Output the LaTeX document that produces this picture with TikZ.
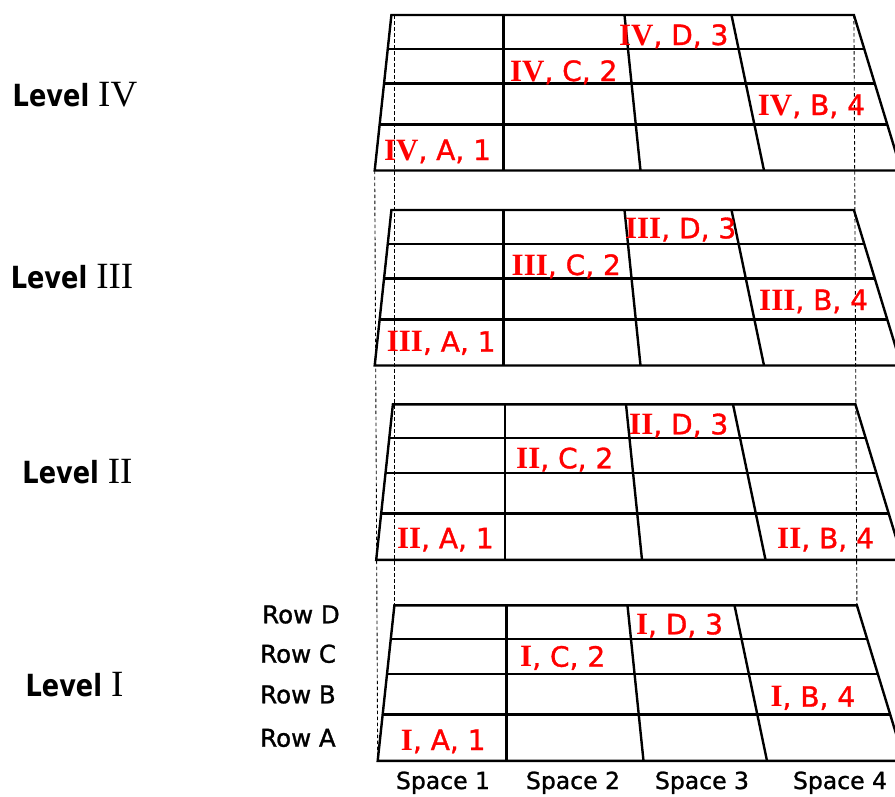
\documentclass[tikz,border=0pt]{standalone}
\usepackage{fontspec}
\setmainfont{DejaVu Sans}[FakeBold=1.2]
\newfontfamily\numfont{Liberation Serif}
\newfontfamily\levelfont{DejaVu Sans}[FakeStretch=0.84]
\usetikzlibrary{calc}

% one floor of the stack: #1 name, #2 x shift, #3 y of top edge
\newcommand{\floorgrid}[3]{%
  \begin{scope}[shift={(#2,#3)}]
    \coordinate (#1-tl) at (391.4,0);
    \coordinate (#1-tr) at (853.9,0);
    \coordinate (#1-bl) at (374.7,155.5);
    \coordinate (#1-br) at (901.3,155.5);
    \draw[gridline] (#1-tl) -- (#1-tr) -- (#1-br) -- (#1-bl) -- cycle;
    \foreach \f in {0.218,0.440,0.703}
      \draw[gridline] ($(#1-tl)!\f!(#1-bl)$) -- ($(#1-tr)!\f!(#1-br)$);
    \draw[gridline] (503.5,0) -- (503.5,155.5);
    \draw[gridline] (624.5,0) -- (640.5,155.5);
    \draw[gridline] (731.5,0) -- (764,155.5);
  \end{scope}}
\newcommand{\lvnum}[1]{{\numfont\mdseries\fontsize{37}{40}\selectfont #1}}
\newcommand{\cellnum}[1]{{\numfont\bfseries\fontsize{31}{33}\selectfont #1}}

\begin{document}
\begin{tikzpicture}[
    x=1pt, y=-1pt,
    gridline/.style={line width=2.4pt, line join=miter},
    guide/.style={line width=0.9pt, dash pattern=on 3.5pt off 2.5pt},
    levellabel/.style={anchor=base, inner sep=0pt, font=\levelfont\fontsize{30.5}{32}\selectfont\bfseries},
    rowlabel/.style={anchor=base west, inner sep=0pt, font=\fontsize{24.5}{26}\selectfont},
    spacelabel/.style={anchor=base, inner sep=0pt, font=\fontsize{23.5}{25}\selectfont},
    cell/.style={anchor=base west, inner sep=0pt, text=red, font=\fontsize{28}{30}\selectfont}
]
\useasboundingbox (0,0) rectangle (895,796);
\clip (0,0) rectangle (895,796);

\floorgrid{IV}{0}{15}
\floorgrid{III}{0}{210}
\floorgrid{II}{1.5}{404.3}
\floorgrid{I}{3}{605.3}

\coordinate (guidetop) at (I-tl |- IV-tl);
\draw[guide] (IV-bl) -- (I-bl);
\draw[guide] (guidetop) -- (I-tl);
\draw[guide] (IV-tr) -- (I-tr);

\node[levellabel] (lvIV) at (75,106.7) {Level \lvnum{IV}};
\node[levellabel] (lvIII) at (72,288.3) {Level \lvnum{III}};
\node[levellabel] (lvII) at (77.5,483.3) {Level \lvnum{II}};
\node[levellabel] (lvI) at (74.5,696) {Level \lvnum{I}};

\node[rowlabel] (rowD) at (262,623.3) {Row D};
\node[rowlabel] (rowC) at (260,662.7) {Row C};
\node[rowlabel] (rowB) at (260,703.3) {Row B};
\node[rowlabel] (rowA) at (260,746.7) {Row A};

\node[spacelabel] (sp1) at (443,789) {Space 1};
\node[spacelabel] (sp2) at (573,789) {Space 2};
\node[spacelabel] (sp3) at (702,789) {Space 3};
\node[spacelabel] (sp4) at (840,789) {Space 4};

\node[cell] (cIVD) at (618.8,45) {\cellnum{IV}, D, 3};
\node[cell] (cIVC) at (509.8,81) {\cellnum{IV}, C, 2};
\node[cell] (cIVB) at (757.7,115) {\cellnum{IV}, B, 4};
\node[cell] (cIVA) at (383.8,160) {\cellnum{IV}, A, 1};

\node[cell] (cIIID) at (624.9,238.3) {\cellnum{III}, D, 3};
\node[cell] (cIIIC) at (511.5,275) {\cellnum{III}, C, 2};
\node[cell] (cIIIB) at (759,310) {\cellnum{III}, B, 4};
\node[cell] (cIIIA) at (386.6,351.7) {\cellnum{III}, A, 1};

\node[cell] (cIID) at (629,434.3) {\cellnum{II}, D, 3};
\node[cell] (cIIC) at (516,468.3) {\cellnum{II}, C, 2};
\node[cell] (cIIA) at (396.8,548.3) {\cellnum{II}, A, 1};
\node[cell] (cIIB) at (777,548.3) {\cellnum{II}, B, 4};

\node[cell] (cID) at (635.8,634.3) {\cellnum{I}, D, 3};
\node[cell] (cIC) at (520,666.7) {\cellnum{I}, C, 2};
\node[cell] (cIB) at (770.3,706.7) {\cellnum{I}, B, 4};
\node[cell] (cIA) at (400.7,750) {\cellnum{I}, A, 1};

\end{tikzpicture}
\end{document}
